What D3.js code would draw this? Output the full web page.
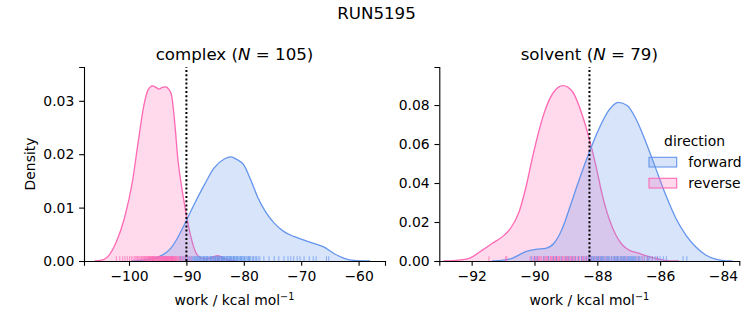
<!DOCTYPE html>
<html><head><meta charset="utf-8">
<script src="https://cdn.jsdelivr.net/npm/d3@7"></script>
<style>
body{margin:0;background:#fff}
svg{display:block}
text{font-family:"DejaVu Sans",sans-serif;fill:#000}
</style>
</head><body>
<svg id="c" width="753" height="325"></svg>
<script>
// ---------- data ----------
const suptitle = "RUN5195";
const directions = ["forward", "reverse"];

const complexXTicks = [-100, -90, -80, -70, -60];
const complexYTicks = [0, 0.01, 0.02, 0.03];
const solventXTicks = [-92, -90, -88, -86, -84];
const solventYTicks = [0, 0.02, 0.04, 0.06, 0.08];

const complexN = 105;
const solventN = 79;
const complexVLine = -90.0;
const solventVLine = -88.25;

// KDE curves: [work, density]
const complexForwardKde = [[-99.5,0],[-97,0.0002],[-95,0.0007],[-93.5,0.0016],[-92.7,0.0024],[-91.5,0.0044],[-90.4,0.0067],[-88.7,0.0105],[-86.9,0.0142],[-85.2,0.0174],[-83.4,0.0191],[-82.3,0.0195],[-81.2,0.0190],[-80.0,0.0180],[-78.8,0.0152],[-77.6,0.0120],[-76.2,0.0092],[-74.7,0.0071],[-73.0,0.0055],[-71.3,0.0046],[-69.5,0.0039],[-67.8,0.0033],[-66.0,0.0026],[-64.3,0.0014],[-62.5,0.0005],[-60.8,0.0001],[-58,0]];
const complexReverseKde = [[-106,0],[-105,0.0001],[-103.8,0.0007],[-102.2,0.0036],[-100.8,0.0080],[-99.4,0.0149],[-98.4,0.0223],[-97.4,0.0292],[-96.7,0.0320],[-95.9,0.0328],[-95.3,0.0325],[-94.8,0.0322],[-94.2,0.0325],[-93.6,0.0326],[-93.1,0.0322],[-92.6,0.0311],[-92.0,0.0255],[-91.5,0.0192],[-90.7,0.0130],[-90.1,0.0092],[-89.3,0.0049],[-88.4,0.0017],[-87.5,0.0006],[-86.5,0.0004],[-85.3,0.0008],[-84.6,0.0010],[-83.8,0.0007],[-82.8,0.0002],[-81.5,0]];
const solventForwardKde = [[-91.35,0],[-91.0,0.0004],[-90.71,0.0014],[-90.28,0.0048],[-89.96,0.0060],[-89.64,0.0065],[-89.38,0.0091],[-89.11,0.0168],[-88.85,0.0287],[-88.58,0.0415],[-88.26,0.0556],[-87.94,0.0681],[-87.63,0.0774],[-87.33,0.0814],[-87.04,0.0796],[-86.78,0.0732],[-86.46,0.0612],[-86.14,0.0475],[-85.82,0.0338],[-85.5,0.0219],[-85.18,0.0133],[-84.87,0.0073],[-84.55,0.0031],[-84.23,0.0009],[-83.91,0.0001],[-83.7,0]];
const solventReverseKde = [[-92.9,0],[-92.6,0.0002],[-92.08,0.0014],[-91.66,0.0056],[-91.34,0.0091],[-91.02,0.0125],[-90.76,0.0168],[-90.49,0.0253],[-90.28,0.0373],[-90.07,0.0527],[-89.85,0.0672],[-89.64,0.0783],[-89.38,0.0868],[-89.09,0.0899],[-88.79,0.0868],[-88.48,0.0749],[-88.26,0.0629],[-88.05,0.0492],[-87.84,0.0338],[-87.63,0.0219],[-87.41,0.0133],[-87.2,0.0082],[-86.99,0.0056],[-86.67,0.0039],[-86.35,0.0022],[-86.03,0.0009],[-85.7,0.0001],[-85.4,0]];

// rug samples (work values)
const complexReverseRug = [-102.2,-101.6,-101.1,-100.7,-100.3,-99.9,-99.6,-99.3,-99.0,-98.8,-98.6,-98.5,-98.3,-98.1,-97.9,-97.8,-97.6,-97.5,-97.3,-97.2,-97.1,-96.95,-96.8,-96.7,-96.6,-96.5,-96.4,-96.3,-96.25,-96.2,-96.15,-96.0,-95.95,-95.9,-95.85,-95.75,-95.7,-95.6,-95.5,-95.4,-95.3,-95.2,-95.1,-95.05,-94.95,-94.85,-94.7,-94.65,-94.6,-94.5,-94.4,-94.3,-94.25,-94.2,-94.1,-94.0,-93.95,-93.9,-93.85,-93.8,-93.7,-93.65,-93.6,-93.5,-93.45,-93.35,-93.3,-93.25,-93.2,-93.1,-93.05,-92.95,-92.85,-92.8,-92.7,-92.65,-92.6,-92.55,-92.45,-92.4,-92.35,-92.3,-92.2,-92.1,-92.0,-91.9,-91.8,-91.7,-91.55,-91.4,-91.2,-91.0,-90.85,-90.6,-90.4,-90.2,-90.0,-89.7,-89.4,-89.1,-85.4,-84.9,-84.6,-84.3,-83.9];
const complexForwardRug = [-91.1,-90.6,-90.2,-89.8,-89.5,-89.2,-88.9,-88.7,-88.6,-88.4,-88.2,-88.1,-88.0,-87.8,-87.7,-87.6,-87.5,-87.3,-87.1,-87.0,-86.9,-86.8,-86.6,-86.5,-86.4,-86.3,-86.1,-85.9,-85.8,-85.7,-85.6,-85.4,-85.3,-85.1,-85.0,-84.9,-84.8,-84.6,-84.5,-84.4,-84.3,-84.2,-84.0,-83.9,-83.8,-83.7,-83.6,-83.5,-83.4,-83.3,-83.1,-83.0,-82.9,-82.8,-82.7,-82.5,-82.4,-82.3,-82.2,-82.1,-81.9,-81.8,-81.7,-81.6,-81.5,-81.3,-81.2,-81.1,-80.9,-80.7,-80.6,-80.5,-80.4,-80.2,-80.0,-79.9,-79.8,-79.6,-79.4,-79.2,-79.1,-79.0,-78.8,-78.5,-78.3,-78.0,-77.8,-77.5,-77.2,-76.5,-75.6,-74.7,-73.9,-73.0,-72.3,-71.8,-71.3,-70.7,-70.2,-69.5,-68.6,-67.9,-67.4,-65.6,-65.2];
const solventReverseRug = [-91.45,-90.92,-90.88,-90.14,-90.05,-90.0,-89.98,-89.95,-89.9,-89.88,-89.85,-89.82,-89.78,-89.72,-89.7,-89.66,-89.63,-89.6,-89.58,-89.55,-89.5,-89.48,-89.45,-89.42,-89.4,-89.36,-89.33,-89.3,-89.28,-89.25,-89.22,-89.2,-89.15,-89.12,-89.1,-89.06,-89.03,-89.0,-88.98,-88.95,-88.92,-88.9,-88.85,-88.82,-88.8,-88.77,-88.74,-88.71,-88.68,-88.62,-88.59,-88.56,-88.5,-88.47,-88.44,-88.38,-88.35,-88.32,-88.26,-88.23,-88.2,-88.12,-88.05,-87.98,-87.92,-87.85,-87.75,-87.66,-87.55,-87.45,-87.36,-87.25,-87.15,-87.06,-86.7,-86.55,-86.4,-86.25,-86.1];
const solventForwardRug = [-90.1,-90.0,-89.92,-89.7,-89.55,-89.4,-89.3,-89.15,-89.0,-88.9,-88.8,-88.7,-88.6,-88.5,-88.42,-88.35,-88.28,-88.25,-88.2,-88.17,-88.14,-88.11,-88.08,-88.03,-88.0,-87.97,-87.95,-87.9,-87.87,-87.84,-87.81,-87.78,-87.72,-87.69,-87.66,-87.63,-87.6,-87.55,-87.5,-87.47,-87.44,-87.41,-87.38,-87.35,-87.33,-87.28,-87.25,-87.22,-87.19,-87.16,-87.13,-87.1,-87.05,-87.02,-87.0,-86.97,-86.94,-86.91,-86.88,-86.85,-86.82,-86.79,-86.76,-86.7,-86.67,-86.64,-86.58,-86.5,-86.42,-86.38,-86.33,-86.25,-86.16,-86.08,-86.0,-85.9,-85.8,-85.27,-85.15];

// ---------- drawing ----------
const svg = d3.select('#c');
const colors = {forward: '#6495ED', reverse: '#FF69B4'};
const FS = 13.9;
const TICK = 4.86, PAD = 4.86;
const fmtMinus = f => v => f(v).replace('-', '\u2212');

function panel(o) {
  const x = d3.scaleLinear().domain(o.xDomain).range([o.left, o.right]);
  const y = d3.scaleLinear().domain(o.yDomain).range([o.bottom, o.top]);
  const g = svg.append('g');

  // densities: reverse first, forward on top
  const series = [['reverse', o.reverseKde], ['forward', o.forwardKde]];
  const area = d3.area().x(d => x(d[0])).y0(y(0)).y1(d => y(d[1])).curve(d3.curveMonotoneX);
  const line = d3.line().x(d => x(d[0])).y(d => y(d[1])).curve(d3.curveMonotoneX);
  series.forEach(([name, data]) => {
    g.append('path').attr('d', area(data)).attr('fill', colors[name]).attr('fill-opacity', 0.25).attr('stroke', 'none');
    g.append('path').attr('d', line(data)).attr('fill', 'none').attr('stroke', colors[name]).attr('stroke-width', 1.3);
  });

  // rugs
  const rugH = 0.025 * (o.bottom - o.top);
  [['reverse', o.reverseRug], ['forward', o.forwardRug]].forEach(([name, data]) => {
    g.selectAll(null).data(data).enter().append('line')
      .attr('x1', d => x(d)).attr('x2', d => x(d))
      .attr('y1', o.bottom).attr('y2', o.bottom - rugH)
      .attr('stroke', colors[name]).attr('stroke-opacity', 0.7).attr('stroke-width', 1);
  });

  // vertical dotted line
  g.append('line').attr('x1', x(o.vline)).attr('x2', x(o.vline))
    .attr('y1', o.bottom).attr('y2', o.top)
    .attr('stroke', '#000').attr('stroke-width', 2).attr('stroke-dasharray', '2,2.2');

  // axes
  const xa = g.append('g').attr('transform', `translate(0,${o.bottom})`)
    .call(d3.axisBottom(x).tickValues(o.xTicks).tickFormat(fmtMinus(d3.format('d'))).tickSizeOuter(0).tickSize(TICK).tickPadding(PAD));
  const ya = g.append('g').attr('transform', `translate(${o.left},0)`)
    .call(d3.axisLeft(y).tickValues(o.yTicks).tickFormat(d3.format('.2f')).tickSizeOuter(0).tickSize(TICK).tickPadding(PAD));
  [xa, ya].forEach(a => {
    a.selectAll('text').style('font-family', '"DejaVu Sans",sans-serif').style('font-size', FS + 'px').attr('fill', '#000');
    a.selectAll('line').attr('stroke', '#000').attr('stroke-width', 1.1);
    a.select('.domain').attr('stroke', '#000').attr('stroke-width', 1.1);
  });

  // title
  const cx = (o.left + o.right) / 2;
  const t = g.append('text').attr('x', cx).attr('y', o.top - 7.5).attr('text-anchor', 'middle').style('font-size', '16.67px');
  t.append('tspan').text(o.name + ' (');
  t.append('tspan').style('font-style', 'italic').text('N');
  t.append('tspan').text(' = ' + o.n + ')');

  // x label
  const xl = g.append('text').attr('x', cx).attr('y', 305).attr('text-anchor', 'middle').style('font-size', FS + 'px');
  xl.append('tspan').text('work / kcal mol');
  xl.append('tspan').attr('dy', -5.5).style('font-size', '9.7px').text('\u22121');

  if (o.ylabel) {
    g.append('text').attr('transform', `translate(34.5,${(o.top + o.bottom) / 2}) rotate(-90)`)
      .attr('text-anchor', 'middle').style('font-size', FS + 'px').text(o.ylabel);
  }
}

panel({
  name: 'complex', n: complexN, left: 84, right: 385, top: 67, bottom: 261,
  xDomain: [-107.84, -55.4], yDomain: [0, 0.03633],
  xTicks: complexXTicks, yTicks: complexYTicks,
  forwardKde: complexForwardKde, reverseKde: complexReverseKde,
  forwardRug: complexForwardRug, reverseRug: complexReverseRug,
  vline: complexVLine, ylabel: 'Density'
});
panel({
  name: 'solvent', n: solventN, left: 439.3, right: 739.3, top: 67, bottom: 261,
  xDomain: [-93.03, -83.48], yDomain: [0, 0.0995],
  xTicks: solventXTicks, yTicks: solventYTicks,
  forwardKde: solventForwardKde, reverseKde: solventReverseKde,
  forwardRug: solventForwardRug, reverseRug: solventReverseRug,
  vline: solventVLine, ylabel: null
});

// suptitle
svg.append('text').attr('x', 376.5).attr('y', 19).attr('text-anchor', 'middle').style('font-size', '16.67px').text(suptitle);

// legend
const lg = svg.append('g');
lg.append('text').attr('x', 694.5).attr('y', 146).attr('text-anchor', 'middle').style('font-size', FS + 'px').text('direction');
directions.forEach((d, i) => {
  const yy = 157.3 + i * 21;
  lg.append('rect').attr('x', 649).attr('y', yy).attr('width', 27.7).attr('height', 9.7)
    .attr('fill', colors[d]).attr('fill-opacity', 0.25).attr('stroke', colors[d]).attr('stroke-width', 1.1);
  lg.append('text').attr('x', 688.3).attr('y', yy + 9.5).style('font-size', FS + 'px').text(d);
});
</script>
</body></html>
